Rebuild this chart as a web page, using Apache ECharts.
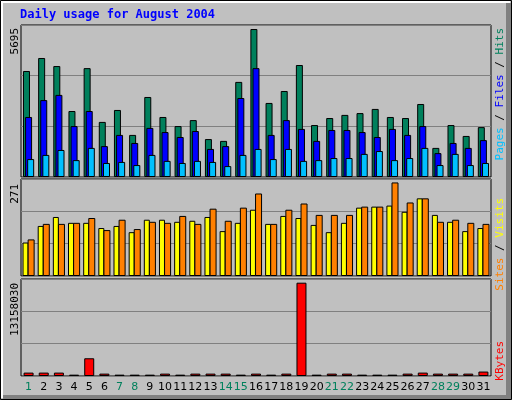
<!DOCTYPE html>
<html><head><meta charset="utf-8">
<script src="https://cdn.jsdelivr.net/npm/echarts@6/dist/echarts.min.js"></script>
<style>html,body{margin:0;padding:0;background:#fff}#c{width:512px;height:400px}</style>
</head><body><div id="c"></div>
<script>
const days = Array.from({length:31},(_,i)=>String(i+1));
const weekendDays = ['1','7','8','14','15','21','22','28','29'];
const hits  = [4080,4580,4270,2540,4190,2120,2580,1620,3080,2310,1960,2190,1460,1390,3660,5695,2850,3310,4310,2000,2270,2390,2460,2620,2310,2270,2810,1120,2000,1580,1920];
const files = [2310,2960,3160,1960,2540,1190,1620,1310,1890,1730,1540,1770,1080,1190,3040,4190,1620,2190,1850,1390,1810,1810,1730,1540,1850,1620,1960,920,1310,1120,1420];
const pages = [690,850,1040,650,1120,540,580,460,850,620,540,620,580,420,850,1080,690,1080,620,650,730,730,890,1000,650,730,1120,460,890,460,540];
const visits= [97,145,171,154,154,139,145,127,163,163,157,160,171,130,154,192,151,174,168,148,127,154,198,201,204,186,225,177,157,130,139];
const sites = [106,151,151,154,168,133,163,136,157,154,174,151,195,160,198,239,151,192,210,177,177,177,201,201,271,213,225,157,163,154,151];
const kbytes= [480000,480000,480000,190000,2500000,335000,190000,190000,190000,335000,190000,335000,335000,335000,190000,335000,190000,335000,13158030,190000,335000,335000,190000,190000,190000,335000,480000,335000,335000,335000,625000];
const maxLabels = ['5695','271','13158030'];

const chart = echarts.init(document.getElementById('c'));
const L=21, W=470;
const grids=[{top:25,height:152},{top:179,height:97},{top:279,height:97}];
const bs={borderColor:'#000',borderWidth:1};
function xa(i,show){return {type:'category',data:days,gridIndex:i,axisLine:{show:false},axisTick:{show:false},
  axisLabel:{show:show,interval:0,fontFamily:'DejaVu Sans',fontSize:11,margin:6,
   color:(v)=>weekendDays.includes(v)?'#00805C':'#000'}};}
function ya(i,max){return {type:'value',gridIndex:i,min:0,max:max,interval:max/3,axisLabel:{show:false},axisLine:{show:false},axisTick:{show:false},splitLine:{lineStyle:{color:'#808080',width:1}}};}
const rt=(x,y,align,text,rich)=>({type:'text',x:x,y:y,rotation:Math.PI/2,style:{text:text,align:align,verticalAlign:'middle',font:'11px "DejaVu Sans Mono"',fill:'#000',rich:rich}});
chart.setOption({
  animation:false,
  backgroundColor:'#C0C0C0',
  grid:grids.map(g=>({left:L,width:W,top:g.top,height:g.height,show:true,backgroundColor:'#C0C0C0',borderColor:'#000',borderWidth:1})),
  xAxis:[xa(0,false),xa(1,false),xa(2,true)],
  yAxis:[ya(0,5850),ya(1,281),ya(2,13680000)],
  series:[
    {type:'bar',xAxisIndex:0,yAxisIndex:0,data:hits,barWidth:7,barGap:'-70%',itemStyle:Object.assign({color:'#00805C'},bs)},
    {type:'bar',xAxisIndex:0,yAxisIndex:0,data:files,barWidth:7,barGap:'-70%',itemStyle:Object.assign({color:'#0000FF'},bs)},
    {type:'bar',xAxisIndex:0,yAxisIndex:0,data:pages,barWidth:7,barGap:'-70%',itemStyle:Object.assign({color:'#00C0FF'},bs)},
    {type:'bar',xAxisIndex:1,yAxisIndex:1,data:visits,barWidth:6,barGap:'-15%',itemStyle:Object.assign({color:'#FFFF00'},bs)},
    {type:'bar',xAxisIndex:1,yAxisIndex:1,data:sites,barWidth:7,barGap:'-15%',itemStyle:Object.assign({color:'#FF8000'},bs)},
    {type:'bar',xAxisIndex:2,yAxisIndex:2,data:kbytes,barWidth:10,itemStyle:Object.assign({color:'#FF0000'},bs)}
  ],
  graphic:[
    {type:'rect',shape:{x:0.5,y:0.5,width:511,height:399},style:{fill:null,stroke:'#000',lineWidth:1},silent:true},
    {type:'rect',shape:{x:1,y:1,width:509,height:2},style:{fill:'#fff'}},
    {type:'rect',shape:{x:1,y:1,width:2,height:397},style:{fill:'#fff'}},
    {type:'rect',shape:{x:506,y:3,width:5,height:396},style:{fill:'#808080'}},
    {type:'rect',shape:{x:3,y:395,width:508,height:4},style:{fill:'#808080'}},
    {type:'text',x:20,y:15,style:{text:'Daily usage for August 2004',font:'bold 12px "DejaVu Sans Mono"',fill:'#0000FF',verticalAlign:'middle'}},
    rt(15,28,'right',maxLabels[0]),
    rt(15,184,'right',maxLabels[1]),
    rt(15,283,'right',maxLabels[2]),
    rt(500,28,'right','{p|Pages} / {f|Files} / {h|Hits}',{p:{fill:'#00C0FF',font:'11px "DejaVu Sans Mono"'},f:{fill:'#0000FF',font:'11px "DejaVu Sans Mono"'},h:{fill:'#00805C',font:'11px "DejaVu Sans Mono"'}}),
    rt(500,198,'right','{s|Sites} / {v|Visits}',{s:{fill:'#FF8000',font:'11px "DejaVu Sans Mono"'},v:{fill:'#FFFF00',font:'11px "DejaVu Sans Mono"'}}),
    rt(500,341,'right','{k|KBytes}',{k:{fill:'#FF0000',font:'11px "DejaVu Sans Mono"'}})
  ]
});
</script></body></html>
